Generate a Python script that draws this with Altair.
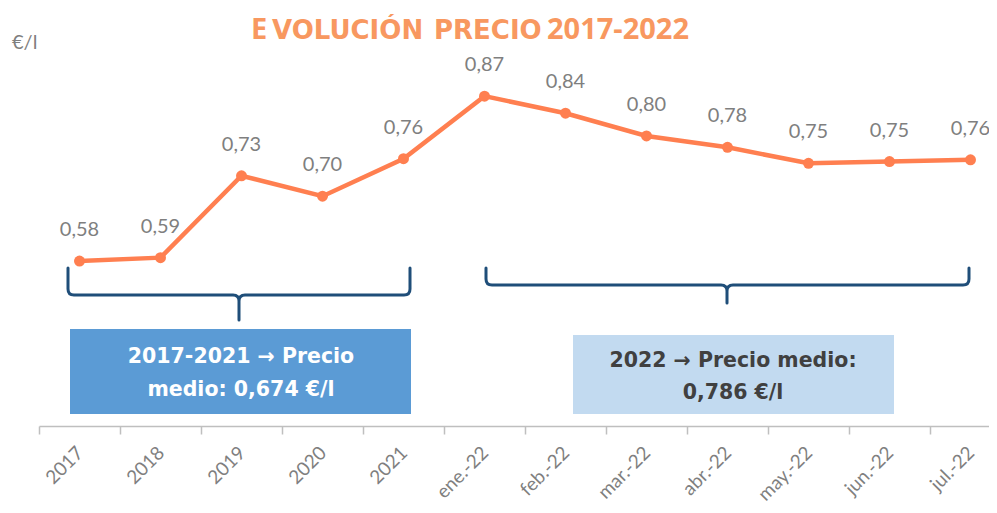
import altair as alt
import pandas as pd

categories = ["2017", "2018", "2019", "2020", "2021", "ene.-22", "feb.-22",
              "mar.-22", "abr.-22", "may.-22", "jun.-22", "jul.-22"]
values = [0.58, 0.586, 0.73, 0.694, 0.76, 0.87, 0.84, 0.80, 0.78, 0.752, 0.755, 0.758]
labels = ["0,58", "0,59", "0,73", "0,70", "0,76", "0,87", "0,84", "0,80", "0,78", "0,75", "0,75", "0,76"]

df = pd.DataFrame({"cat": categories, "val": values, "lab": labels})

ORANGE = "#FF7F50"
TITLE_C = "#F89860"
NAVY = "#1F4E79"
GRAY = "#7F7F7F"
FONT = "Lato"
BOLD = "DejaVu Sans"

x = alt.X("cat:N", sort=categories, title=None,
          scale=alt.Scale(range=[0, 972], paddingInner=0, paddingOuter=0),
          axis=alt.Axis(labelAngle=-45, labelFontSize=19, labelColor=GRAY, labelFont=FONT,
                        domainColor="#BFBFBF", domainWidth=1.5, tickColor="#BFBFBF",
                        tickSize=8, tickWidth=1.5, tickBand="extent", labelPadding=9,
                        labelOffset=-6))
y = alt.Y("val:Q", scale=alt.Scale(domain=[0.29, 1.025], zero=False, nice=False), axis=None)

base = alt.Chart(df)
line = base.mark_line(color=ORANGE, strokeWidth=4.5).encode(x=x, y=y)
pts = base.mark_point(color=ORANGE, filled=True, opacity=1, size=120).encode(x=x, y=y)
txt = base.mark_text(dy=-31, fontSize=20, color=GRAY, font=FONT).encode(x=x, y=y, text="lab:N")

OX, OY = 39, 8  # plot origin in page coordinates


def brace_path(left, right, up, down, r=6):
    return (f"M {left} {-up} L {left} {-r} Q {left} 0 {left + r} 0 L {-r} 0 Q 0 0 0 {r} L 0 {down} "
            f"M 0 {r} Q 0 0 {r} 0 L {right - r} 0 Q {right} 0 {right} {-r} L {right} {-up}")


dummy = pd.DataFrame({"a": [0]})
brace1 = alt.Chart(dummy).mark_point(
    shape=brace_path(-171, 171, 27, 25), size=4, filled=False, stroke=NAVY,
    strokeWidth=3, opacity=1, strokeJoin="round", strokeCap="round"
).encode(x=alt.value(239 - OX), y=alt.value(295 - OY))
brace2 = alt.Chart(dummy).mark_point(
    shape=brace_path(-241, 242, 17, 18), size=4, filled=False, stroke=NAVY,
    strokeWidth=3, opacity=1, strokeJoin="round", strokeCap="round"
).encode(x=alt.value(727 - OX), y=alt.value(285 - OY))

box1 = alt.Chart(dummy).mark_rect(color="#5B9BD5").encode(
    x=alt.value(70 - OX), x2=alt.value(411 - OX), y=alt.value(329 - OY), y2=alt.value(414 - OY))
box2 = alt.Chart(dummy).mark_rect(color="#C2DAF0").encode(
    x=alt.value(573 - OX), x2=alt.value(894 - OX), y=alt.value(335 - OY), y2=alt.value(414 - OY))

box1_text = ["2017-2021 \u2192 Precio", "medio: 0,674 \u20ac/l"]
box2_text = ["2022 \u2192 Precio medio:", "0,786 \u20ac/l"]

t1 = alt.Chart(dummy).mark_text(
    text=box1_text, color="white", fontSize=20.5, fontWeight="bold", font=BOLD,
    lineHeight=33, align="center", baseline="middle"
).encode(x=alt.value(241 - OX), y=alt.value(357 - OY))
t2 = alt.Chart(dummy).mark_text(
    text=box2_text, color="#404040", fontSize=20.5, fontWeight="bold", font=BOLD,
    lineHeight=32, align="center", baseline="middle"
).encode(x=alt.value(733 - OX), y=alt.value(361 - OY))

unit = alt.Chart(dummy).mark_text(
    text="\u20ac/l", color=GRAY, fontSize=20, font=FONT, align="left", baseline="middle"
).encode(x=alt.value(12 - OX), y=alt.value(43 - OY))

title_parts = [
    ("E", 251, 29, "Open Sans"),
    ("VOLUCI\u00d3N", 272, 26, BOLD),
    ("PRECIO", 434, 26, BOLD),
    ("2017-2022", 547, 29, "Open Sans"),
]
title_layers = [
    alt.Chart(dummy).mark_text(
        text=t, color=TITLE_C, fontSize=s, fontWeight="bold", font=f,
        align="left", baseline="alphabetic"
    ).encode(x=alt.value(px - OX), y=alt.value(39 - OY))
    for t, px, s, f in title_parts
]

chart = alt.layer(
    box1, box2, brace1, brace2, line, pts, txt, t1, t2, unit, *title_layers
).properties(
    width=950, height=418,
    padding={"left": OX - 8, "top": OY - 8, "right": 0, "bottom": 79},
    autosize=alt.AutoSizeParams(type="none"),
    background="white",
).configure_view(stroke=None)

chart.save("out.html", embed_options={"renderer": "svg", "actions": False})
